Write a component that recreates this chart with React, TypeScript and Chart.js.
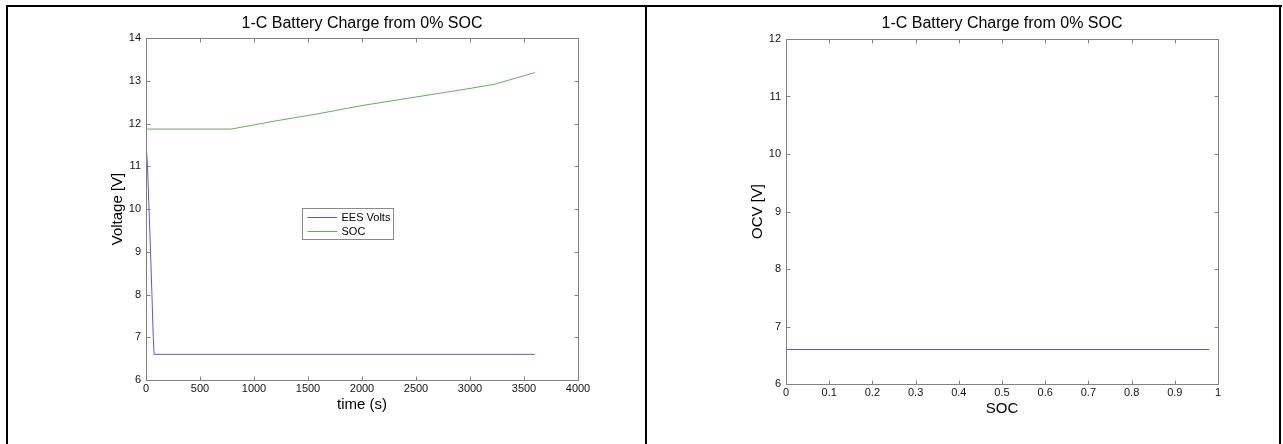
import React, { useEffect, useRef } from "react";
import { Chart, registerables } from "chart.js";

Chart.register(...registerables);

// ---------- data ----------
const chartTitle = "1-C Battery Charge from 0% SOC";

const timeSec = [0, 14, 28, 42, 55, 67, 75, 3600];
const eesVolts = [11.55, 11.0, 10.0, 9.0, 8.0, 7.0, 6.6, 6.6];

const socTimeSec = [0, 790, 1200, 1600, 2000, 2500, 3000, 3230, 3600];
const socCurve = [11.87, 11.87, 12.06, 12.23, 12.42, 12.62, 12.82, 12.92, 13.19];

const socValues = [0, 0.98];
const ocvValues = [6.6, 6.6];

const legendLabels = ["EES Volts", "SOC"];

// ---------- styles ----------
const FONT = "'Liberation Sans', Arial, Helvetica, sans-serif";
const BLUE = "rgb(85, 85, 230)";
const GREEN = "rgb(95, 175, 95)";
const AXIS = "#808080";

type Decor = {
  xTitle: string;
  yTitle: string;
  yTitleX: number;
  xTitleY: number;
  legend?: { fx: number; fy: number; w: number; h: number; items: { label: string; color: string }[] };
};

function decorPlugin(d: Decor) {
  return {
    id: "decor",
    afterDraw(chart: any) {
      const { ctx, chartArea: a, scales } = chart;
      ctx.save();
      ctx.strokeStyle = AXIS;
      ctx.lineWidth = 1;
      const L = Math.round(a.left) + 0.5;
      const R = Math.round(a.right) + 0.5;
      const T = Math.round(a.top) + 0.5;
      const B = Math.round(a.bottom) + 0.5;
      ctx.beginPath();
      ctx.rect(L, T, R - L, B - T);
      ctx.stroke();
      const tl = 4;
      ctx.beginPath();
      scales.x.ticks.forEach((t: any) => {
        const px = Math.round(scales.x.getPixelForValue(t.value)) + 0.5;
        ctx.moveTo(px, B);
        ctx.lineTo(px, B - tl);
        ctx.moveTo(px, T);
        ctx.lineTo(px, T + tl);
      });
      scales.y.ticks.forEach((t: any) => {
        const py = Math.round(scales.y.getPixelForValue(t.value)) + 0.5;
        ctx.moveTo(L, py);
        ctx.lineTo(L + tl, py);
        ctx.moveTo(R, py);
        ctx.lineTo(R - tl, py);
      });
      ctx.stroke();
      ctx.fillStyle = "#000";
      ctx.textAlign = "center";
      ctx.textBaseline = "middle";
      ctx.font = `16px ${FONT}`;
      ctx.fillText(chartTitle, (a.left + a.right) / 2, 24);
      ctx.font = `15px ${FONT}`;
      ctx.fillText(d.xTitle, (a.left + a.right) / 2, d.xTitleY);
      ctx.save();
      ctx.translate(d.yTitleX, (a.top + a.bottom) / 2);
      ctx.rotate(-Math.PI / 2);
      ctx.fillText(d.yTitle, 0, 0);
      ctx.restore();
      if (d.legend) {
        const lg = d.legend;
        const x0 = Math.round(a.left + (a.right - a.left) * lg.fx) + 0.5;
        const y0 = Math.round(a.top + (a.bottom - a.top) * lg.fy) + 0.5;
        ctx.fillStyle = "#fff";
        ctx.fillRect(x0, y0, lg.w, lg.h);
        ctx.strokeStyle = "#8a8a8a";
        ctx.strokeRect(x0, y0, lg.w, lg.h);
        ctx.font = `11px ${FONT}`;
        ctx.textAlign = "left";
        ctx.textBaseline = "middle";
        const rowH = (lg.h - 4) / lg.items.length;
        lg.items.forEach((it, i) => {
          const cy = Math.round(y0 + 2 + rowH * (i + 0.5)) + 0.5;
          ctx.strokeStyle = it.color;
          ctx.beginPath();
          ctx.moveTo(x0 + 5, cy);
          ctx.lineTo(x0 + 35, cy);
          ctx.stroke();
          ctx.fillStyle = "#000";
          ctx.fillText(it.label, x0 + 39, cy);
        });
      }
      ctx.restore();
    },
  };
}

const fmt = (v: any) => String(Math.round(Number(v) * 1000) / 1000);

function makeScales(opts: {
  xMin: number; xMax: number; xStep: number;
  yMin: number; yMax: number; yStep: number;
  yWidth: number; xHeight: number;
}) {
  const tickFont = { family: FONT, size: 11 };
  return {
    x: {
      type: "linear" as const,
      min: opts.xMin,
      max: opts.xMax,
      ticks: { stepSize: opts.xStep, font: tickFont, color: "#111", padding: 2, maxRotation: 0, autoSkip: false, callback: fmt },
      grid: { display: true, drawOnChartArea: false, drawTicks: false, color: AXIS },
      border: { display: true, color: AXIS },
      afterFit: (s: any) => { s.height = opts.xHeight; },
    },
    y: {
      type: "linear" as const,
      min: opts.yMin,
      max: opts.yMax,
      ticks: { stepSize: opts.yStep, font: tickFont, color: "#111", padding: 5, autoSkip: false, callback: fmt },
      grid: { display: true, drawOnChartArea: false, drawTicks: false, color: AXIS },
      border: { display: true, color: AXIS },
      afterFit: (s: any) => { s.width = opts.yWidth; },
    },
  };
}

function LeftChart() {
  const ref = useRef<HTMLCanvasElement>(null);
  useEffect(() => {
    if (!ref.current) return;
    const chart = new Chart(ref.current, {
      type: "line",
      data: {
        datasets: [
          {
            label: legendLabels[0],
            data: timeSec.map((t, i) => ({ x: t, y: eesVolts[i] })),
            borderColor: BLUE,
            borderWidth: 1,
            pointRadius: 0,
            tension: 0,
          },
          {
            label: legendLabels[1],
            data: socTimeSec.map((t, i) => ({ x: t, y: socCurve[i] })),
            borderColor: GREEN,
            borderWidth: 1,
            pointRadius: 0,
            tension: 0,
          },
        ],
      },
      options: {
        animation: false,
        responsive: false,
        layout: { padding: { left: 0, top: 38, right: 67, bottom: 0 } },
        plugins: { legend: { display: false }, title: { display: false }, tooltip: { enabled: false } },
        scales: makeScales({ xMin: 0, xMax: 4000, xStep: 500, yMin: 6, yMax: 14, yStep: 1, yWidth: 146, xHeight: 64 }),
      },
      plugins: [
        decorPlugin({
          xTitle: "time (s)",
          yTitle: "Voltage [V]",
          yTitleX: 118,
          xTitleY: 405,
          legend: {
            fx: 0.362,
            fy: 0.496,
            w: 91,
            h: 31,
            items: [
              { label: legendLabels[0], color: BLUE },
              { label: legendLabels[1], color: GREEN },
            ],
          },
        }),
      ],
    });
    return () => chart.destroy();
  }, []);
  return <canvas ref={ref} width={645} height={444} style={{ position: "absolute", left: 0, top: 0, width: 645, height: 444 }} />;
}

function RightChart() {
  const ref = useRef<HTMLCanvasElement>(null);
  useEffect(() => {
    if (!ref.current) return;
    const chart = new Chart(ref.current, {
      type: "line",
      data: {
        datasets: [
          {
            label: "OCV",
            data: socValues.map((s, i) => ({ x: s, y: ocvValues[i] })),
            borderColor: BLUE,
            borderWidth: 1,
            pointRadius: 0,
            tension: 0,
          },
        ],
      },
      options: {
        animation: false,
        responsive: false,
        layout: { padding: { left: 0, top: 39, right: 65, bottom: 0 } },
        plugins: { legend: { display: false }, title: { display: false }, tooltip: { enabled: false } },
        scales: makeScales({ xMin: 0, xMax: 1, xStep: 0.1, yMin: 6, yMax: 12, yStep: 1, yWidth: 141, xHeight: 60 }),
      },
      plugins: [
        decorPlugin({
          xTitle: "SOC",
          yTitle: "OCV [V]",
          yTitleX: 113,
          xTitleY: 409,
        }),
      ],
    });
    return () => chart.destroy();
  }, []);
  return <canvas ref={ref} width={638} height={444} style={{ position: "absolute", left: 645, top: 0, width: 638, height: 444 }} />;
}

export default function App() {
  const line = (s: React.CSSProperties) => (
    <div style={{ position: "absolute", background: "#000", ...s }} />
  );
  return (
    <div style={{ position: "absolute", left: 0, top: 0, width: 1283, height: 444, background: "#fff", overflow: "hidden" }}>
      <LeftChart />
      <RightChart />
      {line({ left: 6, top: 5, width: 1276, height: 2 })}
      {line({ left: 6, top: 5, width: 2, height: 439 })}
      {line({ left: 645, top: 5, width: 2, height: 439 })}
      {line({ left: 1279, top: 5, width: 2, height: 439 })}
    </div>
  );
}
